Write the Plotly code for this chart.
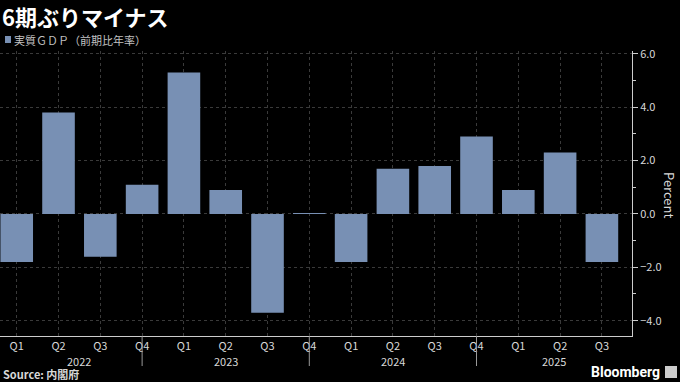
import plotly.graph_objects as go

quarters = ["2022-Q1", "2022-Q2", "2022-Q3", "2022-Q4",
            "2023-Q1", "2023-Q2", "2023-Q3", "2023-Q4",
            "2024-Q1", "2024-Q2", "2024-Q3", "2024-Q4",
            "2025-Q1", "2025-Q2", "2025-Q3"]
quarter_labels = ["Q1", "Q2", "Q3", "Q4", "Q1", "Q2", "Q3", "Q4",
                  "Q1", "Q2", "Q3", "Q4", "Q1", "Q2", "Q3"]
gdp_growth = [-1.8, 3.8, -1.6, 1.1, 5.3, 0.9, -3.7, 0.03,
              -1.8, 1.7, 1.8, 2.9, 0.9, 2.3, -1.8]
years = ["2022", "2023", "2024", "2025"]
year_positions = [1.5, 5.0, 9.0, 12.85]
year_separators = [3, 7, 11]
y_ticks = [-4.0, -2.0, 0.0, 2.0, 4.0, 6.0]

BAR = "#7890b4"
GRID = "#3a3a3a"
TXT = "#d8d8d8"
FONT = "Noto Sans CJK JP, Noto Sans, sans-serif"

# plot area in pixels: top 51, bottom 336 -> height 285; left 0, width 632
H = 285.0
W = 632.0
def py(pix):
    return (336.0 - pix) / H
def px(pix):
    return pix / W

fig = go.Figure()
fig.add_trace(go.Bar(x=quarters, y=gdp_growth, marker=dict(color=BAR, line=dict(width=0)),
                     name="実質ＧＤＰ（前期比年率）", showlegend=False))

fig.update_layout(
    width=680, height=382,
    paper_bgcolor="black", plot_bgcolor="black",
    margin=dict(l=0, r=48, t=51, b=46),
    bargap=0.22,
    font=dict(family=FONT, color=TXT, size=11),
    xaxis=dict(
        type="category", range=[-0.4, 14.72],
        tickvals=quarters, ticktext=quarter_labels,
        showgrid=True, gridcolor=GRID, griddash="dot", gridwidth=1,
        showline=True, linecolor="#cccccc", linewidth=1,
        ticks="", ticklabelstandoff=0,
        tickfont=dict(size=11, color=TXT), zeroline=False,
    ),
    yaxis=dict(
        side="right", range=[-4.575, 6.11],
        tickvals=y_ticks, tickformat=".1f",
        showgrid=True, gridcolor=GRID, griddash="dot", gridwidth=1,
        showline=True, linecolor="#cccccc", linewidth=1,
        ticks="outside", ticklen=5, tickcolor="#cccccc",
        minor=dict(dtick=1, ticks="outside", ticklen=3, tickcolor="#cccccc", showgrid=False),
        tickfont=dict(size=11, color=TXT), zeroline=False,
    ),
)

fig.add_annotation(x=px(670), y=py(195), xref="paper", yref="paper", text="Percent",
                   textangle=90, showarrow=False, font=dict(size=13, color=TXT),
                   xanchor="center", yanchor="middle")

for yr, pos in zip(years, year_positions):
    fig.add_annotation(x=pos, y=py(361), xref="x", yref="paper", text=yr, yanchor="middle",
                       showarrow=False, font=dict(size=11, color=TXT))

for s in year_separators:
    fig.add_shape(type="line", xref="x", yref="paper", x0=s, x1=s, y0=0, y1=py(366),
                  line=dict(color="#999999", width=1))

fig.add_annotation(x=0.0, y=py(16), xref="paper", yref="paper", yanchor="middle", xanchor="left",
                   text="<b>6期ぶりマイナス</b>", showarrow=False,
                   font=dict(size=22, color="white", family=FONT))
fig.add_shape(type="rect", xref="paper", yref="paper", x0=px(5), x1=px(11), y0=py(43), y1=py(36),
              fillcolor=BAR, line=dict(width=0))
fig.add_annotation(x=px(12), y=py(40), xref="paper", yref="paper", xanchor="left", yanchor="middle",
                   text="実質ＧＤＰ（前期比年率）", showarrow=False,
                   font=dict(size=11, color="#c0c0c0"))
fig.add_annotation(x=0.002, y=py(374), xref="paper", yref="paper", xanchor="left", yanchor="middle",
                   text="<b>Source: 内閣府</b>", showarrow=False,
                   font=dict(size=11, color="#d8d8d8"))
fig.add_annotation(x=px(662), y=py(372), xref="paper", yref="paper", xanchor="right", yanchor="middle",
                   text="<b>Bloomberg</b>", showarrow=False,
                   font=dict(size=14, color="white", family="Roboto, sans-serif"))
fig.add_shape(type="rect", xref="paper", yref="paper", x0=px(665), x1=px(677), y0=py(378), y1=py(366),
              fillcolor="#cccccc", line=dict(width=0))

fig.write_html("out.html", config={"displayModeBar": False},
               post_script="document.body.style.margin='0';document.body.style.background='black';")
